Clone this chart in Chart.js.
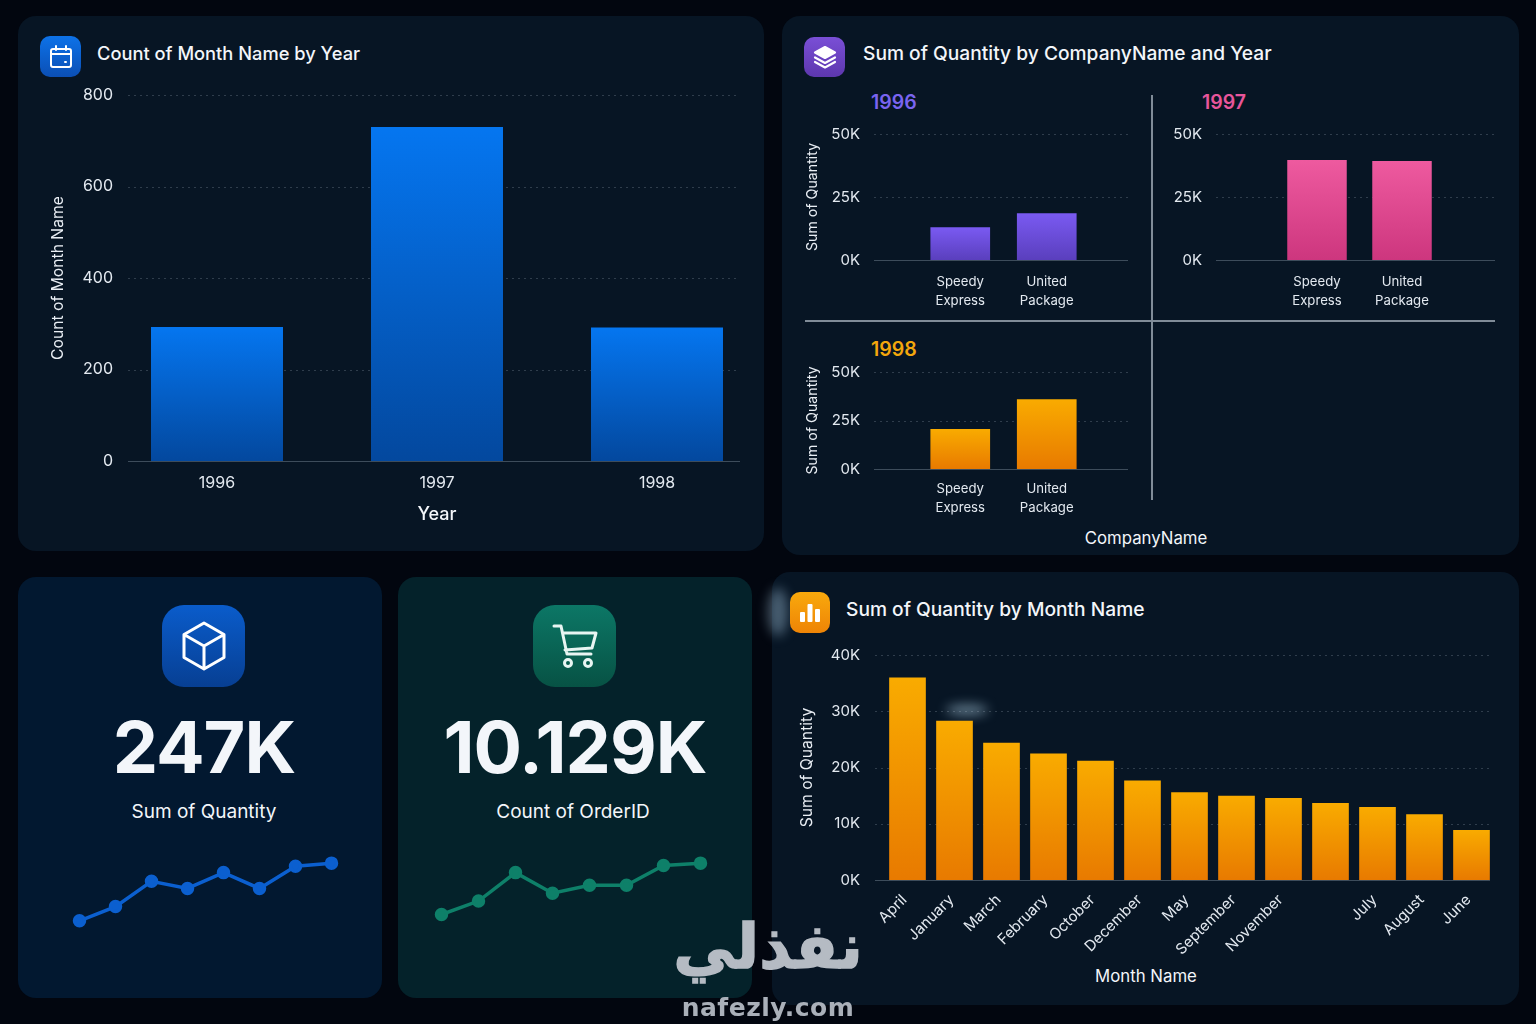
<!DOCTYPE html>
<html>
<head>
<meta charset="utf-8">
<title>Dashboard</title>
<script src="https://cdn.jsdelivr.net/npm/chart.js@4"></script>
<style>
html, body { margin: 0; padding: 0; }
body { width: 1536px; height: 1024px; overflow: hidden; position: relative; background: #02060f; font-family: Inter, "Noto Sans", sans-serif; color: #f3f6fa; }
.card { position: absolute; border-radius: 18px; }
.panel { background: #071524; }
.icon { position: absolute; display: flex; align-items: center; justify-content: center; }
.txt { position: absolute; white-space: nowrap; line-height: 1; }
.title { font-size: 19.2px; font-weight: 500; }
.year { font-size: 19.5px; font-weight: 600; }
.kpi { font-size: 72px; font-weight: 700; text-align: center; letter-spacing: -1px; }
.kpilabel { font-size: 19px; font-weight: 400; text-align: center; }
.axis { font-size: 16.8px; font-weight: 400; text-align: center; }
.line { position: absolute; background: #808c98; }
canvas { position: absolute; }
.glow { position: absolute; border-radius: 50%; filter: blur(6px); }
</style>
</head>
<body>
<div class="card panel" style="left:18px;top:16px;width:746px;height:535px"></div>
<div class="card panel" style="left:782px;top:16px;width:737px;height:539px"></div>
<div class="card" style="left:18px;top:577px;width:364px;height:421px;background:#021830"></div>
<div class="card" style="left:398px;top:577px;width:354px;height:421px;background:#04222a"></div>
<div class="card panel" style="left:772px;top:572px;width:747px;height:433px"></div>
<div class="glow" style="left:768px;top:588px;width:20px;height:48px;background:rgba(170,205,230,.4)"></div>
<div class="glow" style="left:946px;top:705px;width:42px;height:10px;background:rgba(185,220,240,.55)"></div>

<div class="icon" style="left:40px;top:36px;width:41px;height:41px;border-radius:10px;background:linear-gradient(#0d72e8,#0b4fb5)">
<svg width="24" height="24" viewBox="0 0 24 24" fill="none" stroke="#fff" stroke-width="2" stroke-linecap="round"><rect x="2" y="4" width="20" height="18" rx="2"/><path d="M2 9h20M7 1v4M17 1v4M16 17h1"/></svg>
</div>
<div class="txt title" style="left:97px;top:44px;font-size:18.3px">Count of Month Name by Year</div>

<div class="icon" style="left:804px;top:37px;width:41px;height:40px;border-radius:10px;background:linear-gradient(#7a4fd6,#5d37ae)">
<svg width="24" height="24" viewBox="0 0 24 24" fill="none" stroke="#fff" stroke-width="2.2" stroke-linejoin="round" stroke-linecap="round"><path d="M12 2 2 7.5 12 13l10-5.5z" fill="#fff"/><path d="m2 12.5 10 5.5 10-5.5M2 17l10 5.5L22 17"/></svg>
</div>
<div class="txt title" style="left:863px;top:44px">Sum of Quantity by CompanyName and Year</div>
<div class="txt year" style="left:871px;top:93px;color:#7a64f0">1996</div>
<div class="txt year" style="left:1202px;top:93px;color:#e8559b">1997</div>
<div class="txt year" style="left:871px;top:340px;color:#f4a70c">1998</div>
<div class="line" style="left:1151px;top:95px;width:1.5px;height:405px"></div>
<div class="line" style="left:805px;top:320px;width:690px;height:1.5px"></div>
<div class="txt axis" style="left:1046px;top:530px;width:200px">CompanyName</div>

<div class="icon" style="left:162px;top:605px;width:83px;height:82px;border-radius:22px;background:linear-gradient(#0a5ccb,#073f93)">
<svg width="46" height="50" viewBox="0 0 46 50" fill="none" stroke="#fff" stroke-width="3" stroke-linejoin="round"><path d="M23 2 43 13.5v23L23 48 3 36.5v-23zM3 13.5 23 25l20-11.5M23 25v23"/></svg>
</div>
<div class="txt kpi" style="left:18px;top:711px;width:372px">247K</div>
<div class="txt kpilabel" style="left:18px;top:802px;width:372px">Sum of Quantity</div>

<div class="icon" style="left:533px;top:605px;width:83px;height:82px;border-radius:22px;background:linear-gradient(#0c7766,#075244)">
<svg width="48" height="48" viewBox="0 0 48 48" fill="none" stroke="#e8f5f2" stroke-width="3" stroke-linecap="round" stroke-linejoin="round"><path d="M3 4h7l6 28h24M12 11h33l-4 15-27 2"/><circle cx="17" cy="41" r="3.5"/><circle cx="37" cy="41" r="3.5"/></svg>
</div>
<div class="txt kpi" style="left:398px;top:711px;width:354px">10.129K</div>
<div class="txt kpilabel" style="left:398px;top:802px;width:350px">Count of OrderID</div>

<div class="icon" style="left:790px;top:592px;width:40px;height:41px;border-radius:10px;background:linear-gradient(#f9a90c,#ee8406)">
<svg width="24" height="24" viewBox="0 0 24 24" fill="#fff"><rect x="2" y="11" width="5" height="10" rx="1"/><rect x="9.5" y="3" width="5" height="18" rx="1"/><rect x="17" y="8" width="5" height="13" rx="1"/></svg>
</div>
<div class="txt title" style="left:846px;top:600px">Sum of Quantity by Month Name</div>
<div class="txt axis" style="left:1046px;top:968px;width:200px">Month Name</div>

<script>
// datos
const years = ["1996", "1997", "1998"];
const countByYear = [293, 730, 292];

const companies = [["Speedy", "Express"], ["United", "Package"]];
const quantity1996 = [13000, 18600];
const quantity1997 = [39700, 39300];
const quantity1998 = [20600, 36000];

// la posicion 10 no tiene etiqueta en el original
const months = ["April", "January", "March", "February", "October", "December", "May", "September", "November", "", "July", "August", "June"];
const quantityByMonth = [36000, 28300, 24400, 22500, 21200, 17700, 15600, 15000, 14600, 13700, 13000, 11700, 8900];

const sparkLabels = ["1", "2", "3", "4", "5", "6", "7", "8"];
const sparkQuantity = [11, 29, 61, 52, 72, 52, 80, 84];
const sparkOrders = [19, 36, 72, 46, 56, 56, 81, 84];

const BLUE = ["#0576f0", "#03489e"];
const PURPLE = ["#7a5af2", "#5a3fbd"];
const PINK = ["#ee5a9f", "#cd367e"];
const ORANGE = ["#f9ab00", "#e87a00"];

// lineas de rejilla y base dentro del rango que usa el original
const rulePlugin = {
    id: "rule",
    beforeDraw(chart) {
        // con padding negativo las etiquetas del eje y salen de su caja, sin esto se cortan
        chart.scales.y._computeLabelArea = () => undefined;
    },
    beforeDatasetsDraw(chart, args, opts) {
        const ctx = chart.ctx;
        const y = chart.scales.y;
        ctx.save();
        ctx.lineWidth = 1;
        y.ticks.forEach((t) => {
            const py = Math.round(y.getPixelForValue(t.value)) + 0.5;
            const base = t.value === 0;
            ctx.setLineDash(base ? [] : [2, 4]);
            ctx.strokeStyle = base ? "rgba(190,205,220,0.3)" : "rgba(190,205,220,0.22)";
            ctx.beginPath();
            ctx.moveTo(opts.from, py);
            ctx.lineTo(opts.to, py);
            ctx.stroke();
        });
        ctx.restore();
    },
};

function addCanvas(box) {
    const c = document.createElement("canvas");
    c.style.left = box[0] + "px";
    c.style.top = box[1] + "px";
    c.width = box[2];
    c.height = box[3];
    document.body.appendChild(c);
    return c;
}

function barChart(cfg) {
    const [left, top, width, height] = cfg.box;
    const [x0, y0, x1, y1] = cfg.plot;
    const padLeft = 5, padBottom = 3;
    const colors = cfg.colors;
    new Chart(addCanvas(cfg.box), {
        type: "bar",
        data: {
            labels: cfg.labels,
            datasets: [{
                data: cfg.values,
                barPercentage: cfg.barPct,
                categoryPercentage: 1,
                backgroundColor(c) {
                    const chart = c.chart;
                    if (!chart.chartArea || c.raw === undefined) return colors[0];
                    const sy = chart.scales.y;
                    const g = chart.ctx.createLinearGradient(0, sy.getPixelForValue(c.raw), 0, sy.getPixelForValue(0));
                    g.addColorStop(0, colors[0]);
                    g.addColorStop(1, colors[1]);
                    return g;
                },
            }],
        },
        options: {
            responsive: false,
            animation: false,
            layout: { padding: { left: padLeft, top: y0 - top, right: left + width - x1, bottom: padBottom } },
            plugins: {
                legend: { display: false },
                tooltip: { enabled: false },
                rule: { from: cfg.rule[0] - left, to: cfg.rule[1] - left },
            },
            scales: {
                x: {
                    grid: { display: false, drawTicks: false },
                    border: { display: false },
                    afterFit(s) {
                        s.height = top + height - y1 - padBottom;
                        s.paddingLeft = s.paddingRight = 0;
                    },
                    ticks: {
                        color: "#e3e9f0",
                        padding: cfg.xPad,
                        labelOffset: cfg.xShift || 0,
                        autoSkip: false,
                        maxRotation: cfg.rot || 0,
                        minRotation: cfg.rot || 0,
                        font: { family: "Inter", size: cfg.xSize, lineHeight: cfg.xLine || 1.2 },
                    },
                    title: cfg.xTitle ? {
                        display: true,
                        text: cfg.xTitle,
                        color: "#f3f6fa",
                        padding: { top: 0, bottom: 17 },
                        font: { family: "Inter", size: 18, weight: "500" },
                    } : { display: false },
                },
                y: {
                    min: 0,
                    max: cfg.max,
                    grid: { display: false, drawTicks: false },
                    border: { display: false },
                    afterFit(s) {
                        s.width = x0 - left - padLeft;
                        s.paddingTop = s.paddingBottom = 0;
                    },
                    ticks: {
                        color: "#e3e9f0",
                        stepSize: cfg.step,
                        padding: x0 - cfg.labelRight,
                        font: { family: "Inter", size: cfg.ySize },
                        callback: cfg.fmt,
                    },
                    title: cfg.yTitle ? {
                        display: true,
                        text: cfg.yTitle,
                        color: "#e9eef4",
                        padding: { top: cfg.yTitlePad, bottom: 0 },
                        font: { family: "Inter", size: cfg.yTitleSize },
                    } : { display: false },
                },
            },
        },
        plugins: [rulePlugin],
    });
}

function sparkline(box, values, color) {
    new Chart(addCanvas(box), {
        type: "line",
        data: {
            labels: sparkLabels,
            datasets: [{
                data: values,
                borderColor: color,
                backgroundColor: color,
                borderWidth: 3.5,
                pointRadius: 5,
                tension: 0,
            }],
        },
        options: {
            responsive: false,
            animation: false,
            layout: { padding: 8 },
            plugins: { legend: { display: false }, tooltip: { enabled: false } },
            scales: {
                x: { display: false },
                y: { display: false, min: 0, max: 100 },
            },
        },
    });
}

const kFmt = (v) => v / 1000 + "K";

barChart({
    box: [30, 85, 760, 460], plot: [107, 95, 767, 461], rule: [128, 740],
    labels: years, values: countByYear, colors: BLUE, barPct: 0.6,
    max: 800, step: 200, labelRight: 113, xPad: 13, xSize: 16, ySize: 16,
    xTitle: "Year", yTitle: "Count of Month Name", yTitlePad: 14, yTitleSize: 15.7,
});
barChart({
    box: [795, 120, 345, 200], plot: [917, 134, 1090, 260], rule: [874, 1128],
    labels: companies, values: quantity1996, colors: PURPLE, barPct: 0.69,
    max: 50000, step: 25000, labelRight: 860, xPad: 12, xSize: 13.2, xLine: 1.45, ySize: 15, fmt: kFmt,
    yTitle: "Sum of Quantity", yTitlePad: 4, yTitleSize: 14.2,
});
barChart({
    box: [1160, 120, 345, 200], plot: [1274.5, 134, 1444.5, 260], rule: [1216, 1495],
    labels: companies, values: quantity1997, colors: PINK, barPct: 0.7,
    max: 50000, step: 25000, labelRight: 1202, xPad: 12, xSize: 13.2, xLine: 1.45, ySize: 15, fmt: kFmt,
});
barChart({
    box: [795, 358, 345, 165], plot: [917, 372, 1090, 469], rule: [874, 1128],
    labels: companies, values: quantity1998, colors: ORANGE, barPct: 0.69,
    max: 50000, step: 25000, labelRight: 860, xPad: 10, xSize: 13.2, xLine: 1.45, ySize: 15, fmt: kFmt,
    yTitle: "Sum of Quantity", yTitlePad: 4, yTitleSize: 14.2,
});
barChart({
    box: [785, 640, 730, 320], plot: [884, 655, 1495, 880], rule: [875, 1490],
    labels: months, values: quantityByMonth, colors: ORANGE, barPct: 0.78,
    max: 40000, step: 10000, labelRight: 860, xPad: 11, xShift: -3, xSize: 15, ySize: 15, rot: 45, fmt: kFmt,
    yTitle: "Sum of Quantity", yTitlePad: 8, yTitleSize: 15.7,
});

sparkline([71, 842, 269, 96], sparkQuantity, "#0b5fcf");
sparkline([433, 842, 276, 96], sparkOrders, "#0e8069");
</script>

<div class="txt" dir="rtl" style="left:668px;top:916px;width:200px;text-align:center;font-family:'DejaVu Sans';font-weight:700;font-size:62px;-webkit-text-stroke:1.5px #b5bbc3;color:#b5bbc3">نفذلي</div>
<div class="txt" style="left:668px;top:995px;width:200px;text-align:center;font-family:'DejaVu Sans';font-weight:700;font-size:25px;letter-spacing:.5px;color:#aab0b9">nafezly.com</div>
</body>
</html>
